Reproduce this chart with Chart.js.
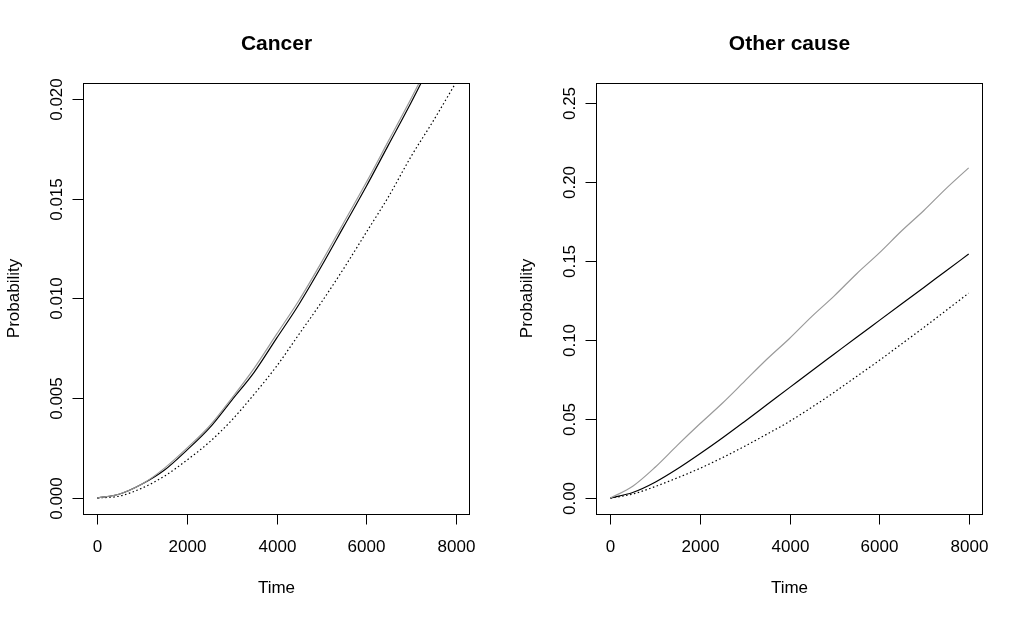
<!DOCTYPE html>
<html>
<head>
<meta charset="utf-8">
<script src="https://cdn.jsdelivr.net/npm/chart.js@4.4.1/dist/chart.umd.min.js"></script>
<style>
  html, body { margin: 0; padding: 0; background: #fff; }
  #wrap { position: relative; width: 1026px; height: 619px; }
  canvas { position: absolute; top: 0; }
</style>
</head>
<body>
<div id="wrap">
  <canvas id="cancerChart" width="513" height="619" style="left:0"></canvas>
  <canvas id="otherChart" width="513" height="619" style="left:513px"></canvas>
</div>
<script>
// time grid the curves were read at
const timePoints = [0, 500, 1000, 1500, 2000, 2500, 3000, 3500, 4000, 4500, 5000, 5500, 6000, 6500, 7000, 7500, 8000];

// Cancer panel
const cancerGray   = [0, 0.0002, 0.0007, 0.0015, 0.0025, 0.0036, 0.0050, 0.0065, 0.0082, 0.0099, 0.0118, 0.0138, 0.0158, 0.0179, 0.0200, 0.0222, 0.0244];
const cancerBlack  = [0, 0.0002, 0.0007, 0.0014, 0.0024, 0.0035, 0.0049, 0.0063, 0.0080, 0.0097, 0.0116, 0.0136, 0.0156, 0.0177, 0.0198, 0.0220, 0.0242];
const cancerDotted = [0, 0.0001, 0.0005, 0.0011, 0.0019, 0.0028, 0.0039, 0.0052, 0.0066, 0.0082, 0.0098, 0.0115, 0.0133, 0.0151, 0.0171, 0.0189, 0.0208];

// Other cause panel
const otherGray   = [0, 0.0075, 0.0195, 0.0335, 0.047, 0.060, 0.074, 0.088, 0.101, 0.115, 0.128, 0.142, 0.155, 0.169, 0.182, 0.196, 0.209];
const otherBlack  = [0, 0.0035, 0.0100, 0.0185, 0.0280, 0.0380, 0.0485, 0.0592, 0.0699, 0.0806, 0.0912, 0.1018, 0.1123, 0.1228, 0.1333, 0.1439, 0.1544];
const otherDotted = [0, 0.0025, 0.0073, 0.0128, 0.0188, 0.0255, 0.0328, 0.0405, 0.0485, 0.0575, 0.0670, 0.0770, 0.0870, 0.0975, 0.1080, 0.1188, 0.1297];

const timeTicks = [0, 2000, 4000, 6000, 8000];
const cancerTicks = [0, 0.005, 0.010, 0.015, 0.020];
const cancerTickLabels = ['0.000', '0.005', '0.010', '0.015', '0.020'];
const otherTicks = [0, 0.05, 0.10, 0.15, 0.20, 0.25];
const otherTickLabels = ['0.00', '0.05', '0.10', '0.15', '0.20', '0.25'];

const FONT = '"Liberation Sans", Arial, sans-serif';

function pts(ys) {
    return timePoints.map((t, i) => ({ x: t, y: ys[i] }));
}

// base-R look: box, outward ticks, rotated y labels, titles
const rFrame = {
    id: 'rFrame',
    afterDraw(chart, args, opts) {
        const ctx = chart.ctx;
        const a = chart.chartArea;
        const xs = chart.scales.x, ys = chart.scales.y;
        const tick = 10.5;
        ctx.save();
        ctx.strokeStyle = '#000';
        ctx.fillStyle = '#000';
        ctx.lineWidth = 1;
        ctx.strokeRect(a.left + 0.5, a.top + 0.5, a.right - a.left - 1, a.bottom - a.top);

        // x axis
        ctx.font = '17px ' + FONT;
        ctx.textAlign = 'center';
        ctx.textBaseline = 'alphabetic';
        opts.xTicks.forEach(v => {
            const px = Math.round(xs.getPixelForValue(v)) + 0.5;
            ctx.beginPath();
            ctx.moveTo(px, a.bottom);
            ctx.lineTo(px, a.bottom + tick);
            ctx.stroke();
            ctx.fillText(String(v), px, 552);
        });
        ctx.fillText('Time', (a.left + a.right) / 2, 593);

        // y axis
        opts.yTicks.forEach((v, i) => {
            const py = Math.round(ys.getPixelForValue(v)) + 0.5;
            ctx.beginPath();
            ctx.moveTo(a.left, py);
            ctx.lineTo(a.left - tick, py);
            ctx.stroke();
            ctx.save();
            ctx.translate(62, py);
            ctx.rotate(-Math.PI / 2);
            ctx.fillText(opts.yLabels[i], 0, 0);
            ctx.restore();
        });
        ctx.save();
        ctx.translate(19, (a.top + a.bottom) / 2);
        ctx.rotate(-Math.PI / 2);
        ctx.fillText('Probability', 0, 0);
        ctx.restore();

        // title
        ctx.font = 'bold 21px ' + FONT;
        ctx.fillText(opts.title, (a.left + a.right) / 2, 50);
        ctx.restore();
    }
};

function makePanel(id, title, gray, black, dotted, yMin, yMax, yTicks, yLabels) {
    const common = { pointRadius: 0, fill: false, cubicInterpolationMode: 'monotone', clip: 0 };
    new Chart(document.getElementById(id).getContext('2d'), {
        type: 'line',
        data: {
            datasets: [
                Object.assign({ data: pts(gray), borderColor: '#9a9a9a', borderWidth: 1.2 }, common),
                Object.assign({ data: pts(black), borderColor: '#000', borderWidth: 1.2 }, common),
                Object.assign({ data: pts(dotted), borderColor: '#000', borderWidth: 1.2, borderDash: [1.5, 2.5] }, common)
            ]
        },
        options: {
            responsive: false,
            animation: false,
            layout: { padding: { left: 83, right: 43, top: 83, bottom: 105 } },
            plugins: {
                legend: { display: false },
                tooltip: { enabled: false },
                rFrame: { title: title, xTicks: timeTicks, yTicks: yTicks, yLabels: yLabels }
            },
            scales: {
                x: { type: 'linear', min: -320, max: 8320, display: false },
                y: { type: 'linear', min: yMin, max: yMax, display: false }
            }
        },
        plugins: [rFrame]
    });
}

makePanel('cancerChart', 'Cancer', cancerGray, cancerBlack, cancerDotted, -0.0008, 0.0208, cancerTicks, cancerTickLabels);
makePanel('otherChart', 'Other cause', otherGray, otherBlack, otherDotted, -0.0101, 0.2627, otherTicks, otherTickLabels);
</script>
</body>
</html>
